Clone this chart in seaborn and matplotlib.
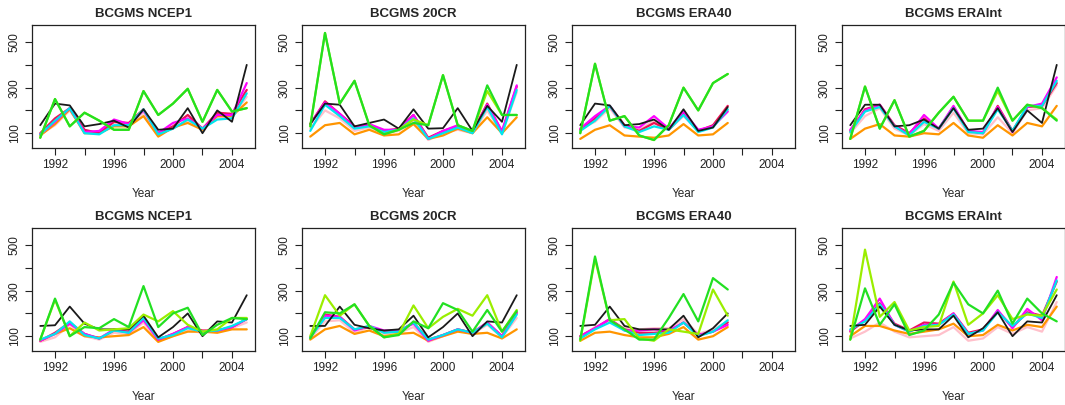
import numpy as np
import pandas as pd
import seaborn as sns
import matplotlib
matplotlib.use("Agg")
import matplotlib.pyplot as plt

# years shown on the x axis
years_full = list(range(1991, 2006))
years_era40 = list(range(1991, 2002))

# series drawing order and colours
series = ["pink", "orange", "red", "magenta", "cyan", "black", "chartreuse", "green"]
colors = {"pink": "#ffc0cb", "orange": "#ff9500", "red": "#ee1155", "magenta": "#ff00ff",
          "cyan": "#00e5ee", "black": "#1a1a1a", "chartreuse": "#9aee00", "green": "#22e022"}
widths = {"black": 1.3}

# ---- top row ----
top_ncep1 = {
    "black":      [135, 230, 222, 130, 140, 155, 125, 205, 115, 120, 210, 100, 200, 150, 400],
    "green":      [80, 250, 130, 190, 155, 115, 115, 285, 180, 230, 295, 150, 290, 195, 210],
    "chartreuse": [80, 250, 130, 190, 155, 115, 115, 285, 180, 230, 295, 150, 290, 195, 210],
    "orange":     [90, 140, 205, 100, 100, 130, 130, 175, 85, 125, 145, 115, 175, 175, 235],
    "pink":       [95, 135, 200, 110, 105, 145, 135, 190, 95, 120, 155, 120, 170, 170, 260],
    "magenta":    [95, 150, 210, 105, 110, 160, 140, 200, 100, 145, 165, 120, 180, 180, 320],
    "red":        [100, 165, 210, 115, 100, 150, 145, 205, 100, 130, 180, 120, 190, 185, 290],
    "cyan":       [95, 155, 210, 100, 95, 135, 135, 205, 95, 120, 160, 120, 160, 165, 275],
}
top_20cr = {
    "black":      [140, 230, 225, 130, 145, 160, 120, 205, 120, 122, 210, 110, 220, 150, 400],
    "green":      [130, 540, 230, 330, 135, 95, 115, 145, 135, 355, 135, 110, 310, 180, 180],
    "chartreuse": [130, 540, 230, 330, 135, 95, 115, 160, 135, 355, 135, 110, 285, 180, 180],
    "orange":     [85, 135, 145, 95, 115, 90, 95, 140, 75, 90, 120, 100, 170, 100, 170],
    "pink":       [120, 200, 165, 110, 125, 100, 110, 155, 70, 100, 115, 100, 200, 100, 280],
    "magenta":    [140, 235, 185, 125, 140, 115, 115, 180, 75, 110, 135, 105, 225, 110, 310],
    "red":        [140, 240, 185, 130, 135, 110, 120, 180, 80, 110, 130, 105, 230, 105, 305],
    "cyan":       [110, 225, 175, 120, 130, 105, 115, 165, 75, 100, 125, 100, 215, 95, 290],
}
top_era40 = {
    "black":      [135, 230, 222, 135, 140, 160, 115, 205, 110, 125, 215],
    "green":      [100, 405, 155, 175, 90, 70, 135, 300, 200, 320, 360],
    "chartreuse": [100, 405, 155, 175, 90, 70, 135, 300, 200, 320, 360],
    "orange":     [75, 115, 135, 90, 85, 80, 90, 140, 90, 95, 145],
    "pink":       [120, 150, 210, 125, 115, 155, 115, 175, 110, 130, 200],
    "magenta":    [120, 175, 220, 130, 125, 175, 120, 195, 115, 130, 195],
    "red":        [115, 165, 220, 135, 110, 145, 115, 185, 110, 135, 220],
    "cyan":       [110, 155, 220, 130, 105, 130, 115, 180, 105, 125, 205],
}
top_erai = {
    "black":      [135, 225, 225, 130, 135, 160, 120, 210, 115, 120, 210, 105, 200, 145, 400],
    "green":      [75, 305, 120, 245, 85, 110, 190, 260, 155, 155, 300, 155, 225, 210, 155],
    "chartreuse": [75, 305, 120, 245, 85, 110, 190, 260, 155, 155, 285, 155, 225, 210, 160],
    "orange":     [75, 120, 140, 90, 85, 100, 95, 145, 90, 80, 135, 90, 145, 130, 220],
    "pink":       [100, 175, 210, 120, 90, 140, 110, 190, 100, 95, 170, 100, 200, 210, 310],
    "magenta":    [115, 200, 225, 130, 95, 180, 120, 220, 110, 105, 215, 105, 215, 230, 345],
    "red":        [110, 205, 225, 135, 100, 165, 120, 215, 110, 100, 220, 110, 215, 220, 320],
    "cyan":       [105, 195, 215, 130, 90, 150, 120, 210, 105, 100, 205, 110, 220, 220, 330],
}

# ---- bottom row ----
bot_ncep1 = {
    "black":      [145, 148, 230, 155, 130, 130, 130, 190, 95, 140, 200, 100, 165, 160, 280],
    "green":      [85, 265, 100, 140, 135, 175, 140, 320, 140, 200, 225, 105, 150, 180, 175],
    "chartreuse": [85, 260, 100, 160, 125, 130, 135, 195, 165, 210, 150, 120, 130, 180, 180],
    "orange":     [80, 110, 135, 100, 95, 100, 105, 140, 75, 100, 120, 120, 115, 130, 130],
    "pink":       [75, 95, 150, 100, 85, 115, 110, 160, 80, 100, 125, 115, 125, 135, 160],
    "magenta":    [80, 110, 155, 110, 90, 130, 115, 170, 85, 110, 140, 120, 125, 140, 175],
    "red":        [80, 115, 160, 110, 90, 125, 120, 180, 85, 110, 140, 125, 125, 140, 175],
    "cyan":       [85, 110, 165, 105, 90, 125, 115, 180, 90, 105, 135, 120, 125, 145, 175],
}
bot_20cr = {
    "black":      [145, 145, 230, 150, 135, 125, 130, 190, 95, 140, 200, 100, 165, 160, 280],
    "green":      [90, 205, 200, 240, 145, 95, 105, 165, 135, 245, 215, 120, 215, 120, 210],
    "chartreuse": [100, 280, 190, 240, 145, 95, 110, 235, 135, 185, 220, 190, 280, 120, 215],
    "orange":     [85, 130, 145, 110, 125, 100, 110, 115, 80, 100, 120, 110, 115, 90, 130],
    "pink":       [90, 165, 170, 115, 140, 110, 115, 140, 75, 100, 125, 110, 150, 95, 180],
    "magenta":    [95, 190, 185, 125, 145, 125, 125, 155, 80, 105, 130, 115, 160, 100, 200],
    "red":        [95, 195, 185, 130, 140, 120, 120, 160, 85, 105, 130, 115, 160, 100, 205],
    "cyan":       [95, 180, 180, 130, 145, 115, 120, 160, 85, 105, 130, 115, 155, 95, 195],
}
bot_era40 = {
    "black":      [145, 150, 230, 145, 130, 130, 130, 190, 95, 135, 200],
    "green":      [85, 450, 170, 130, 85, 85, 180, 285, 165, 355, 305],
    "chartreuse": [80, 440, 170, 175, 90, 80, 130, 120, 110, 305, 190],
    "orange":     [80, 115, 120, 105, 95, 95, 110, 140, 85, 100, 140],
    "pink":       [100, 140, 170, 135, 130, 135, 135, 175, 110, 130, 165],
    "magenta":    [100, 135, 175, 125, 125, 130, 125, 160, 105, 120, 150],
    "red":        [100, 135, 175, 130, 115, 115, 120, 160, 105, 120, 160],
    "cyan":       [90, 130, 160, 125, 105, 110, 115, 160, 100, 120, 170],
}
bot_erai = {
    "black":      [145, 150, 230, 150, 125, 130, 130, 190, 95, 135, 205, 100, 165, 160, 280],
    "green":      [85, 310, 150, 240, 105, 125, 195, 335, 240, 200, 300, 155, 265, 200, 165],
    "chartreuse": [85, 480, 185, 250, 125, 140, 145, 340, 150, 200, 280, 175, 195, 190, 305],
    "orange":     [100, 145, 145, 125, 110, 120, 130, 155, 100, 105, 150, 125, 150, 140, 230],
    "pink":       [90, 120, 160, 120, 95, 100, 105, 140, 80, 90, 140, 110, 140, 120, 250],
    "magenta":    [125, 175, 265, 150, 120, 150, 150, 200, 110, 125, 215, 135, 220, 170, 360],
    "red":        [120, 170, 245, 155, 125, 160, 155, 200, 115, 130, 210, 140, 205, 190, 340],
    "cyan":       [130, 165, 240, 150, 120, 145, 150, 195, 110, 125, 205, 145, 200, 180, 345],
}

titles = ["BCGMS NCEP1", "BCGMS 20CR", "BCGMS ERA40", "BCGMS ERAInt"]
panels = [[top_ncep1, top_20cr, top_era40, top_erai],
          [bot_ncep1, bot_20cr, bot_era40, bot_erai]]

sns.set_style("white")
plt.rcParams["font.family"] = ["Liberation Sans", "DejaVu Sans"]

W, H = 1065, 405
fig = plt.figure(figsize=(W / 100, H / 100), dpi=100)

col_left = [32, 302, 572, 842]
row_top = [25, 228]
ax_w, ax_h = 223, 123

for r in range(2):
    for c in range(4):
        left = col_left[c] / W
        bottom = (H - row_top[r] - ax_h) / H
        ax = fig.add_axes([left, bottom, ax_w / W, ax_h / H])
        data = panels[r][c]
        yrs = years_era40 if c == 2 else years_full
        for name in series:
            df = pd.DataFrame({"Year": yrs, "value": data[name]})
            sns.lineplot(data=df, x="Year", y="value", ax=ax, color=colors[name],
                         lw=widths.get(name, 1.6), legend=False)
        ax.set_xlim(1990.44, 2005.56)
        ax.set_ylim(35, 575)
        ax.set_xticks(range(1992, 2005, 2))
        ax.set_xticklabels(["1992", "", "1996", "", "2000", "", "2004"])
        ax.set_yticks([100, 200, 300, 400, 500])
        ax.set_yticklabels(["100", "", "300", "", "500"], rotation=90, va="center")
        ax.tick_params(direction="out", length=5, width=0.8, colors="#222222",
                       labelsize=8.5, pad=3, bottom=True, left=True)
        for sp in ax.spines.values():
            sp.set_linewidth(0.9)
            sp.set_color("#222222")
        ax.set_xlabel("Year", fontsize=8.5, labelpad=12)
        ax.set_ylabel("")
        ax.set_title(titles[c], fontsize=9.5, fontweight="bold", pad=6)

fig.savefig("out.png", dpi=100)
